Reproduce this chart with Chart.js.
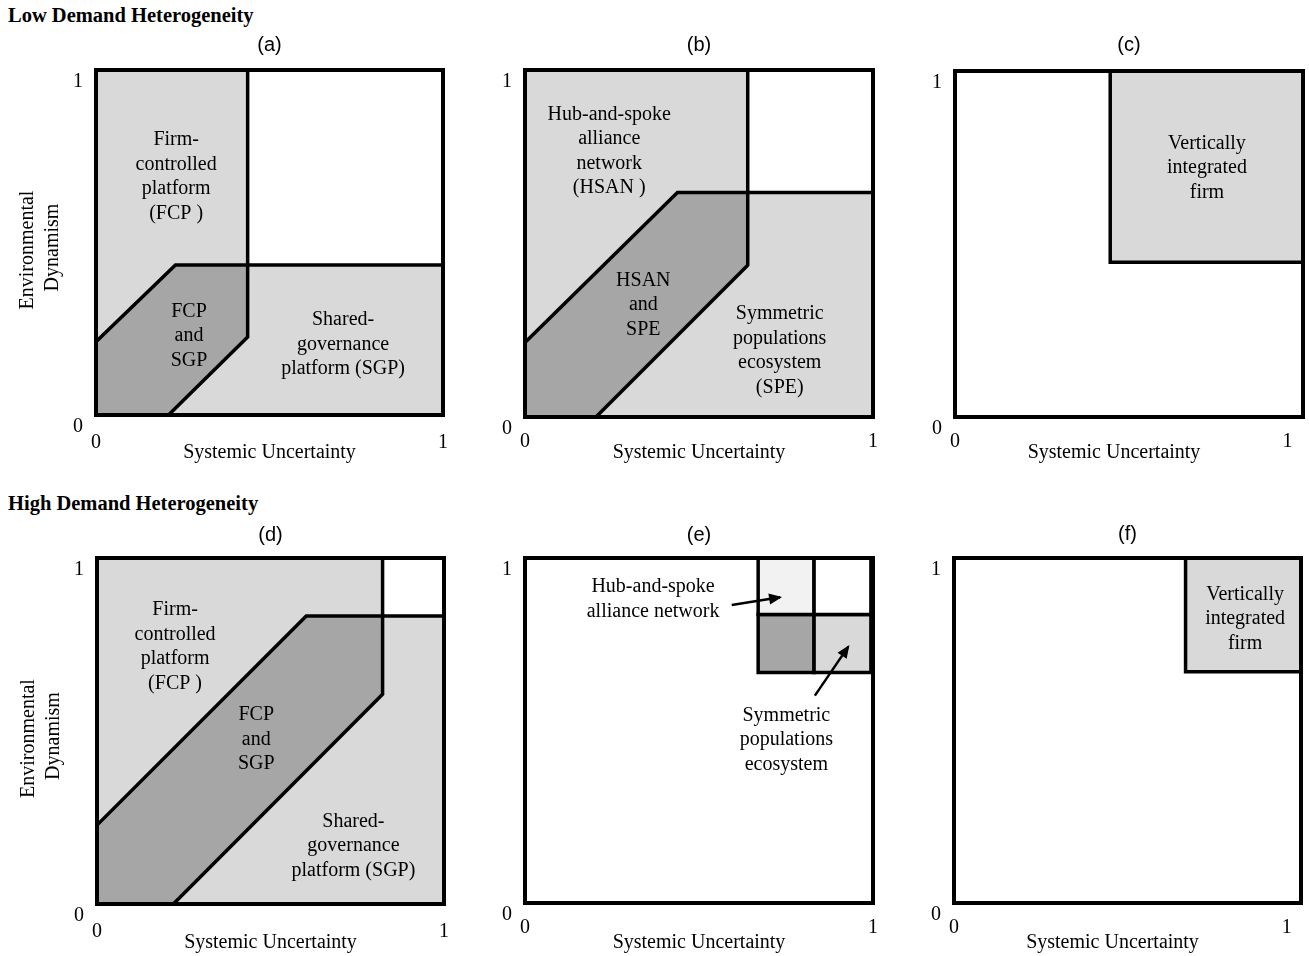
<!DOCTYPE html>
<html><head><meta charset="utf-8">
<script src="https://cdn.jsdelivr.net/npm/chart.js@4.4.1/dist/chart.umd.min.js"></script>
<style>
html,body{margin:0;padding:0;background:#fff;}
body{width:1309px;height:956px;position:relative;overflow:hidden;}
canvas{position:absolute;}
.sec{position:absolute;left:8px;font:bold 20.5px "Liberation Serif","Times New Roman",serif;line-height:20px;color:#000;white-space:nowrap;}
</style></head><body>
<div class="sec" id="sec1" style="top:5px"></div>
<div class="sec" id="sec2" style="top:493px"></div>
<script>
// ================= DATA =================
const sectionTitles = ['Low Demand Heterogeneity', 'High Demand Heterogeneity'];
const panelLetters = ['(a)', '(b)', '(c)', '(d)', '(e)', '(f)'];
const xAxisTitle = 'Systemic Uncertainty';
const yAxisTitle = ['Environmental', 'Dynamism'];
const tickValues = [0, 1];
const wideXMax = [1.047, 1.043]; // x-extent of the frames in (c) and (f)

// (a) low heterogeneity, platforms
const aFrame   = [[0,0],[1,0],[1,1],[0,1],[0,0]];
const aSingle  = [[0,0],[1,0],[1,0.435],[0.437,0.435],[0.437,1],[0,1],[0,0]];
const aOverlap = [[0,0],[0,0.212],[0.229,0.435],[0.437,0.435],[0.437,0.226],[0.209,0],[0,0]];
const aDivider = [[0.437,1],[0.437,0.435],[1,0.435]];
const aLabels  = [['Firm-','controlled','platform','(FCP )'], ['FCP','and','SGP'], ['Shared-','governance','platform (SGP)']];
const aLabelAt = [[0.231,0.691],[0.268,0.229],[0.712,0.205]];

// (b) low heterogeneity, alliances/ecosystems
const bFrame   = [[0,0],[1,0],[1,1],[0,1],[0,0]];
const bSingle  = [[0,0],[1,0],[1,0.647],[0.64,0.647],[0.64,1],[0,1],[0,0]];
const bOverlap = [[0,0],[0,0.215],[0.438,0.647],[0.64,0.647],[0.64,0.4375],[0.204,0],[0,0]];
const bDivider = [[0.64,1],[0.64,0.647],[1,0.647]];
const bLabels  = [['Hub-and-spoke','alliance','network','(HSAN )'], ['HSAN','and','SPE'], ['Symmetric','populations','ecosystem','(SPE)']];
const bLabelAt = [[0.242,0.766],[0.34,0.323],[0.732,0.191]];

// (c) low heterogeneity, vertical integration
const cFrame   = [[0,0],[1.047,0],[1.047,1],[0,1],[0,0]];
const cFirm    = [[0.467,0.447],[1.047,0.447],[1.047,1],[0.467,1],[0.467,0.447]];
const cLabels  = [['Vertically','integrated','firm']];
const cLabelAt = [[0.758,0.72]];

// (d) high heterogeneity, platforms
const dFrame   = [[0,0],[1,0],[1,1],[0,1],[0,0]];
const dSingle  = [[0,0],[1,0],[1,0.8325],[0.823,0.8325],[0.823,1],[0,1],[0,0]];
const dOverlap = [[0,0],[0,0.228],[0.603,0.8325],[0.823,0.8325],[0.823,0.606],[0.22,0],[0,0]];
const dDivider = [[0.823,1],[0.823,0.8325],[1,0.8325]];
const dLabels  = [['Firm-','controlled','platform','(FCP )'], ['FCP','and','SGP'], ['Shared-','governance','platform (SGP)']];
const dLabelAt = [[0.225,0.743],[0.459,0.476],[0.739,0.168]];

// (e) high heterogeneity, alliances/ecosystems
const eFrame   = [[0,0],[1,0],[1,1],[0,1],[0,0]];
const eHub     = [[0.67,0.836],[0.83,0.836],[0.83,1],[0.67,1],[0.67,0.836]];
const eNone    = [[0.83,0.836],[0.994,0.836],[0.994,1],[0.83,1],[0.83,0.836]];
const eBoth    = [[0.67,0.668],[0.83,0.668],[0.83,0.836],[0.67,0.836],[0.67,0.668]];
const eSym     = [[0.83,0.668],[0.994,0.668],[0.994,0.836],[0.83,0.836],[0.83,0.668]];
const eArrowHub = [[0.594,0.864],[0.733,0.886]];
const eArrowSym = [[0.833,0.601],[0.929,0.743]];
const eLabels  = [['Hub-and-spoke','alliance network'], ['Symmetric','populations','ecosystem']];
const eLabelAt = [[0.368,0.881],[0.751,0.472]];

// (f) high heterogeneity, vertical integration
const fFrame   = [[0,0],[1.043,0],[1.043,1],[0,1],[0,0]];
const fFirm    = [[0.696,0.67],[1.043,0.67],[1.043,1],[0.696,1],[0.696,0.67]];
const fLabels  = [['Vertically','integrated','firm']];
const fLabelAt = [[0.875,0.823]];

// ================= STYLE / LAYOUT =================
const INK = '#000000', LIGHT = '#d9d9d9', DARK = '#a6a6a6', PALE = '#f2f2f2';
const FRAME_W = 4, LINE_W = 3.5, ARROW_W = 2.5;
const SERIF = '"Liberation Serif", "Times New Roman", serif';
const SANS = '"Liberation Sans", Arial, sans-serif';
const LABEL_LINE = 24.5;
const NB = '\u00a0';

document.getElementById('sec1').textContent = sectionTitles[0];
document.getElementById('sec2').textContent = sectionTitles[1];

function toPts(arr){ return arr.map(p => ({x: p[0], y: p[1]})); }
function ds(arr, o){
  return Object.assign({data: toPts(arr), pointRadius: 0, pointHoverRadius: 0, borderWidth: 0,
    borderColor: 'rgba(0,0,0,0)', backgroundColor: 'rgba(0,0,0,0)', fill: false, clip: false,
    tension: 0, borderCapStyle: 'square', borderJoinStyle: 'miter', showLine: true}, o);
}
const area = (arr, color) => ds(arr, {fill: 'shape', backgroundColor: color, order: 5});
const block = (arr, color, w) => ds(arr, {fill: 'shape', backgroundColor: color, borderColor: INK, borderWidth: w, order: 3});
const outline = (arr, w, order) => ds(arr, {borderColor: INK, borderWidth: w, order: order});
const arrow = (arr) => ds(arr, {borderColor: INK, borderWidth: ARROW_W, order: 0, borderCapStyle: 'butt', isArrow: true});

const panels = [
  {letter: panelLetters[0], box: [96,70,347,345], xMax: 1, letterY: 45, xTickY: 443, xTitleY: 453, yTitleX: 28, shift: 0,
   datasets: [area(aSingle, LIGHT), block(aOverlap, DARK, LINE_W), outline(aDivider, LINE_W, 1), outline(aFrame, FRAME_W, 0)],
   labels: aLabels, at: aLabelAt},
  {letter: panelLetters[1], box: [525,70,348,347], xMax: 1, letterY: 45, xTickY: 442, xTitleY: 453, yTitleX: null, shift: 0,
   datasets: [area(bSingle, LIGHT), block(bOverlap, DARK, LINE_W), outline(bDivider, LINE_W, 1), outline(bFrame, FRAME_W, 0)],
   labels: bLabels, at: bLabelAt},
  {letter: panelLetters[2], box: [955,71,348,346], xMax: wideXMax[0], letterY: 45, xTickY: 442, xTitleY: 453, yTitleX: null, shift: 6,
   datasets: [block(cFirm, LIGHT, LINE_W), outline(cFrame, FRAME_W, 0)],
   labels: cLabels, at: cLabelAt},
  {letter: panelLetters[3], box: [97,558,347,346], xMax: 1, letterY: 535, xTickY: 931.5, xTitleY: 943, yTitleX: 29, shift: 0,
   datasets: [area(dSingle, LIGHT), block(dOverlap, DARK, LINE_W), outline(dDivider, LINE_W, 1), outline(dFrame, FRAME_W, 0)],
   labels: dLabels, at: dLabelAt},
  {letter: panelLetters[4], box: [525,558,348,345], xMax: 1, letterY: 535, xTickY: 928, xTitleY: 943, yTitleX: null, shift: 0,
   datasets: [block(eHub, PALE, LINE_W), block(eNone, '#ffffff', LINE_W), block(eBoth, DARK, LINE_W), block(eSym, LIGHT, LINE_W),
              outline(eFrame, FRAME_W, 0), arrow(eArrowHub), arrow(eArrowSym)],
   labels: eLabels, at: eLabelAt},
  {letter: panelLetters[5], box: [954,558,347,345], xMax: wideXMax[1], letterY: 534, xTickY: 928, xTitleY: 943, yTitleX: null, shift: 6,
   datasets: [block(fFirm, LIGHT, LINE_W), outline(fFrame, FRAME_W, 0)],
   labels: fLabels, at: fLabelAt},
];

function makeTextPlugin(labels, at) {
  return {
    id: 'regionText',
    afterDatasetsDraw(chart) {
      const {ctx} = chart; const xs = chart.scales.x, ys = chart.scales.y;
      ctx.save();
      chart.data.datasets.forEach((d, i) => {
        if (!d.isArrow) return;
        const pts = chart.getDatasetMeta(i).data;
        const a = pts[pts.length - 2], b = pts[pts.length - 1];
        const ang = Math.atan2(b.y - a.y, b.x - a.x);
        ctx.save(); ctx.translate(b.x, b.y); ctx.rotate(ang); ctx.translate(2, 0);
        ctx.beginPath(); ctx.moveTo(0, 0); ctx.lineTo(-13, -5.5); ctx.lineTo(-13, 5.5); ctx.closePath();
        ctx.fillStyle = INK; ctx.fill(); ctx.restore();
      });
      ctx.font = '20px ' + SERIF; ctx.fillStyle = INK; ctx.textAlign = 'center'; ctx.textBaseline = 'middle';
      labels.forEach((lines, k) => {
        const px = xs.getPixelForValue(at[k][0]), py = ys.getPixelForValue(at[k][1]);
        const n = lines.length;
        lines.forEach((ln, i) => ctx.fillText(ln, px, py + (i - (n - 1) / 2) * LABEL_LINE));
      });
      ctx.restore();
    }
  };
}

const W = 85, TH = 40, H = 52, PR = 10;
const yTitleText = [yAxisTitle[0] + NB.repeat(3), yAxisTitle[1] + NB.repeat(2)];
panels.forEach(p => {
  const [bl, bt, bw, bh] = p.box;
  const cl = bl - W, ct = bt - TH;
  const cv = document.createElement('canvas');
  cv.width = W + bw + PR; cv.height = TH + bh + H;
  cv.style.left = cl + 'px'; cv.style.top = ct + 'px';
  document.body.appendChild(cv);
  const bb = bt + bh;
  const LH = 24;
  const titlePt = p.letterY - ct - LH / 2;
  const xTitleText = xAxisTitle + NB.repeat(p.shift);
  new Chart(cv, {
    type: 'line',
    data: {datasets: p.datasets},
    options: {
      responsive: false, animation: false, events: [],
      layout: {padding: {left: 0, top: 0, right: PR, bottom: 0}},
      plugins: {
        legend: {display: false}, tooltip: {enabled: false},
        title: {display: true, text: p.letter, fullSize: false, color: INK,
                font: {family: SANS, size: 20, weight: 'normal', lineHeight: 1.2},
                padding: {top: titlePt, bottom: TH - LH - titlePt}}
      },
      scales: {
        x: {type: 'linear', min: 0, max: p.xMax,
            afterBuildTicks: s => { s.ticks = tickValues.map(v => ({value: v})); },
            afterFit: s => { s.height = H; s.paddingLeft = 0; s.paddingRight = 0; },
            grid: {display: false, drawTicks: false}, border: {display: false},
            ticks: {color: INK, font: {family: SERIF, size: 20, lineHeight: 1.2}, padding: p.xTickY - bb - 12,
                    maxRotation: 0, autoSkip: false, callback: v => String(v)},
            title: {display: true, text: xTitleText, color: INK, font: {family: SERIF, size: 20, lineHeight: 1.2},
                    padding: {top: 0, bottom: Math.max(0, bb + H - p.xTitleY - 12)}}},
        y: {type: 'linear', min: 0, max: 1,
            afterBuildTicks: s => { s.ticks = tickValues.map(v => ({value: v})); },
            afterFit: s => { s.width = W; s.paddingTop = 0; s.paddingBottom = 0; },
            grid: {display: false, drawTicks: false}, border: {display: false},
            ticks: {color: INK, font: {family: SERIF, size: 20, lineHeight: 1.2}, padding: 13, labelOffset: 12,
                    autoSkip: false, callback: v => String(v)},
            title: {display: p.yTitleX !== null, text: yTitleText, color: INK,
                    font: {family: SERIF, size: 20, lineHeight: 1.25},
                    padding: {top: p.yTitleX !== null ? p.yTitleX - cl - 12.5 : 0, bottom: 0}}}
      }
    },
    plugins: [makeTextPlugin(p.labels, p.at)]
  });
});
</script>
</body></html>
